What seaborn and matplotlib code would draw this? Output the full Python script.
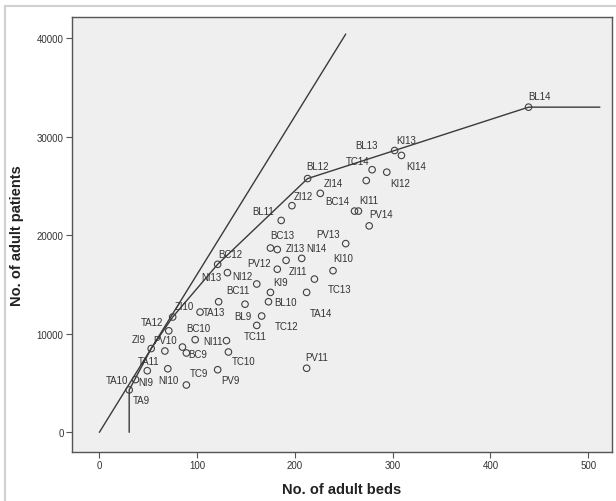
import matplotlib
matplotlib.use("Agg")
import matplotlib.pyplot as plt
import numpy as np
import pandas as pd
import seaborn as sns
from matplotlib.patches import Rectangle

# ---------------- data ----------------
unit_labels = ["BL14", "BL13", "KI13", "TC14", "KI14", "KI12", "BL12", "ZI14",
               "ZI12", "BC14", "KI11", "BL11", "PV14", "PV13", "BC13", "ZI13",
               "NI14", "ZI11", "BC12", "NI13", "PV12", "KI10", "TC13", "NI12",
               "KI9", "TA14", "BC11", "BL9", "BL10", "TA13", "TC12", "ZI10",
               "TC11", "TA12", "BC10", "NI11", "ZI9", "TA11", "PV10", "BC9",
               "TC10", "NI9", "NI10", "PV9", "TA10", "TC9", "TA9", "PV11"]
adult_beds = [439, 302, 309, 279, 294, 273, 213, 226,
              197, 261, 265, 186, 276, 252, 175, 182,
              207, 191, 121, 131, 182, 239, 220, 161,
              175, 212, 122, 149, 173, 103, 166, 75,
              161, 71, 98, 130, 53, 67, 85, 89,
              132, 49, 70, 121, 37, 89, 30.5, 212]
adult_patients = [33000, 28600, 28100, 26650, 26400, 25550, 25750, 24250,
                  23000, 22450, 22450, 21500, 20950, 19150, 18700, 18550,
                  17650, 17450, 17050, 16200, 16550, 16400, 15550, 15050,
                  14200, 14200, 13250, 13000, 13250, 12200, 11800, 11700,
                  10850, 10300, 9400, 9300, 8500, 8250, 8650, 8050,
                  8150, 6250, 6450, 6350, 5350, 4800, 4300, 6500]

# frontier definitions
vrs_units = ["TA9", "ZI9", "ZI10", "BC12", "BL12", "BL13", "BL14"]
vrs_end_beds = 512
crs_unit = "ZI9"
crs_max_beds = 252

x_ticks = [0, 100, 200, 300, 400, 500]
y_ticks = [0, 10000, 20000, 30000, 40000]

# label offsets (pixels, image direction: +x right, +y down) -- styling only
label_offsets = {
    "BL14": (10.5, -11.6), "BL13": (-27.6, -5.8), "KI13": (5, -15),
    "TC14": (-14.7, -9), "KI14": (29, -6.6), "KI12": (34.1, 2.6),
    "BL12": (9.5, -12.8), "ZI14": (13.2, -10), "ZI12": (11.3, -10),
    "BC14": (-17, -10.3), "KI11": (10.7, -11.3), "BL11": (-17.7, -9.6),
    "PV14": (11.7, -11.7), "PV13": (-17.3, -9.7), "BC13": (12, -12.7),
    "ZI13": (18, -1.4), "NI14": (15, -10.5), "KI10": (10.2, -12.9),
    "PV12": (-18.4, -6.4), "ZI11": (11.5, 10.5), "TC13": (24.7, 10.2),
    "TA14": (14.5, 20.5), "BC12": (12.4, -10.5), "NI13": (-15.6, 4.2),
    "NI12": (-14.5, -8), "KI9": (10, -10.8), "BC11": (19.7, -11.4),
    "BL9": (-2.3, 11.8), "BL10": (16.7, -0.2), "TA13": (14.1, 0),
    "TC12": (24.6, 10.4), "ZI10": (11.5, -10.8), "TC11": (-1.8, 10.9),
    "TA12": (-17, -9.1), "BC10": (3.3, -11.4), "NI11": (-13.2, 0),
    "ZI9": (-12.5, -9.1), "TA11": (-16.5, 9.6), "PV10": (-17.7, -6.6),
    "BC9": (11.6, 1), "TC10": (15.4, 9.4), "NI9": (-1.8, 11.1),
    "NI10": (0.1, 11.6), "PV9": (12.7, 10.6), "TA10": (-18.1, 0.9),
    "TC9": (12.2, -12), "TA9": (11.7, 10), "PV11": (10, -11.7),
}

# ---------------- frames ----------------
df = pd.DataFrame({"unit": unit_labels, "beds": adult_beds, "patients": adult_patients})
lookup = df.set_index("unit")

vrs_beds = [lookup.loc[vrs_units[0], "beds"]] + [lookup.loc[u, "beds"] for u in vrs_units] + [vrs_end_beds]
vrs_pat = [0] + [lookup.loc[u, "patients"] for u in vrs_units] + [lookup.loc[vrs_units[-1], "patients"]]
vrs_df = pd.DataFrame({"beds": vrs_beds, "patients": vrs_pat, "order": range(len(vrs_beds))})

crs_slope = lookup.loc[crs_unit, "patients"] / lookup.loc[crs_unit, "beds"]
crs_df = pd.DataFrame({"beds": [0, crs_max_beds], "patients": [0, crs_max_beds * crs_slope]})

# ---------------- style ----------------
sns.set_style("white")
plt.rcParams["font.family"] = ["Liberation Sans", "DejaVu Sans"]

W, H = 616, 502
fig = plt.figure(figsize=(W / 100, H / 100), dpi=100)
fig.patch.set_facecolor("white")
ax_l, ax_r, ax_t, ax_b = 72, 612, 18, 453
ax = fig.add_axes([ax_l / W, 1 - ax_b / H, (ax_r - ax_l) / W, (ax_b - ax_t) / H])
ax.set_facecolor("#efefef")

line_col = "#3a3a3a"
sns.lineplot(data=crs_df, x="beds", y="patients", sort=False, estimator=None,
             color=line_col, linewidth=1.0, ax=ax)
sns.lineplot(data=vrs_df, x="beds", y="patients", sort=False, estimator=None,
             color=line_col, linewidth=1.0, ax=ax)
sns.scatterplot(data=df, x="beds", y="patients", marker="o", s=22,
                facecolor="none", edgecolor="#404040", linewidth=0.8, ax=ax, zorder=3)

for name, bx, py in zip(unit_labels, adult_beds, adult_patients):
    dx, dy = label_offsets[name]
    ax.annotate(name, (bx, py), xytext=(dx, -dy), textcoords="offset pixels",
                ha="center", va="center", fontsize=7, color="#333333", zorder=4)

ax.set_xlim(-28, 524.4)
ax.set_ylim(-2000, 42150)
ax.set_xticks(x_ticks)
ax.set_yticks(y_ticks)
ax.tick_params(axis="both", which="major", direction="out", length=4, width=0.8,
               color="#555555", labelsize=7, labelcolor="#333333", pad=2,
               bottom=True, left=True)
for sp in ax.spines.values():
    sp.set_color("#555555")
    sp.set_linewidth(1.0)
    sp.set_visible(True)

ax.set_xlabel("No. of adult beds", fontsize=10.5, fontweight="bold", color="#222222")
ax.set_ylabel("No. of adult patients", fontsize=10.5, fontweight="bold", color="#222222")
ax.xaxis.label.set_va("center")
ax.xaxis.set_label_coords(0.5, (ax_b - 490) / (ax_b - ax_t))
ax.yaxis.label.set_va("center")
ax.yaxis.set_label_coords((17 - ax_l) / (ax_r - ax_l), 0.5)

fig.patches.append(Rectangle((5 / W, -0.1), 1.2, (1 - 7 / H) + 0.1,
                             transform=fig.transFigure, fill=False,
                             edgecolor="#d0d0d0", linewidth=1.5))

fig.savefig("out.png", dpi=100, facecolor="white")
